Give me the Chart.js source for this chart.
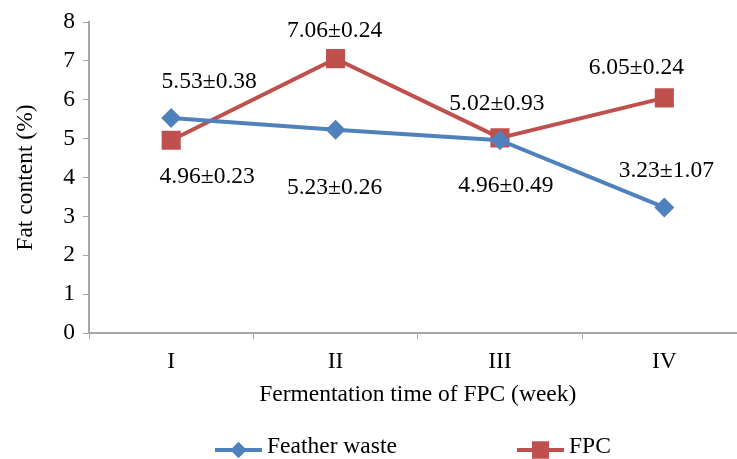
<!DOCTYPE html>
<html>
<head>
<meta charset="utf-8">
<script src="https://cdn.jsdelivr.net/npm/chart.js@4/dist/chart.umd.min.js"></script>
<style>
  html, body { margin: 0; padding: 0; background: #fff; overflow: hidden; }
  #wrap { width: 737px; height: 459px; overflow: hidden; }
</style>
</head>
<body>
<div id="wrap"><canvas id="fatChart" width="760" height="459"></canvas></div>
<script>
// chart data
const weeks = ['I', 'II', 'III', 'IV'];
const featherWaste = [5.53, 5.23, 4.96, 3.23];
const fpc = [4.96, 7.06, 5.02, 6.05];
const featherLabels = ['5.53±0.38', '5.23±0.26', '4.96±0.49', '3.23±1.07'];
const fpcLabels = ['4.96±0.23', '7.06±0.24', '5.02±0.93', '6.05±0.24'];

const blue = '#4F81BD';
const red = '#C0504D';
const axisGray = '#A6A6A6';
const serif = "'Liberation Serif', 'Times New Roman', serif";
const fontPx = 23.5;

// pixel offsets of the value labels from their points (style only)
const labelShift = {
  0: [[38, -36], [-1, 58], [6, 46], [2, -37]],
  1: [[36, 37], [-1, -28], [-3, -34], [-28, -30]]
};
const valueText = { 0: featherLabels, 1: fpcLabels };

const valueLabels = {
  id: 'valueLabels',
  afterDatasetsDraw(chart) {
    const ctx = chart.ctx;
    ctx.save();
    ctx.font = `${fontPx}px ${serif}`;
    ctx.fillStyle = '#000';
    ctx.textAlign = 'center';
    ctx.textBaseline = 'middle';
    chart.data.datasets.forEach((ds, di) => {
      chart.getDatasetMeta(di).data.forEach((pt, i) => {
        const [dx, dy] = labelShift[di][i];
        ctx.fillText(valueText[di][i], pt.x + dx, pt.y + dy);
      });
    });
    ctx.restore();
  }
};

// legend drawn by hand: line + marker + text
const bottomLegend = {
  id: 'bottomLegend',
  afterDraw(chart) {
    const ctx = chart.ctx;
    const items = [
      { x: 215, ds: chart.data.datasets[0] },
      { x: 517, ds: chart.data.datasets[1] }
    ];
    const y = 450;
    ctx.save();
    items.forEach(({ x, ds }) => {
      ctx.strokeStyle = ds.borderColor;
      ctx.lineWidth = 4;
      ctx.beginPath();
      ctx.moveTo(x, y);
      ctx.lineTo(x + 47, y);
      ctx.stroke();
      ctx.fillStyle = ds.borderColor;
      Chart.helpers.drawPoint(ctx, {
        pointStyle: ds.pointStyle,
        radius: ds.legendRadius,
        rotation: 0,
        borderWidth: 0
      }, x + 23.5, y);
      ctx.fill();
      ctx.fillStyle = '#000';
      ctx.font = `${fontPx}px ${serif}`;
      ctx.textBaseline = 'middle';
      ctx.textAlign = 'left';
      ctx.fillText(ds.label, x + 52, y - 3);
    });
    ctx.restore();
  }
};

new Chart(document.getElementById('fatChart'), {
  type: 'line',
  data: {
    labels: weeks,
    datasets: [
      {
        label: 'Feather waste',
        data: featherWaste,
        borderColor: blue,
        backgroundColor: blue,
        borderWidth: 4,
        pointStyle: 'rectRot',
        pointRadius: 10,
        legendRadius: 8,
        pointBorderWidth: 0,
        tension: 0
      },
      {
        label: 'FPC',
        data: fpc,
        borderColor: red,
        backgroundColor: red,
        borderWidth: 4,
        pointStyle: 'rect',
        pointRadius: 13.5,
        legendRadius: 12,
        pointBorderWidth: 0,
        tension: 0
      }
    ]
  },
  plugins: [valueLabels, bottomLegend],
  options: {
    responsive: false,
    animation: false,
    layout: { padding: { top: 22, right: 3, bottom: 46, left: 0 } },
    plugins: {
      legend: { display: false },
      tooltip: { enabled: false }
    },
    scales: {
      x: {
        offset: true,
        grid: {
          offset: true,
          drawOnChartArea: false,
          drawTicks: true,
          tickLength: 6,
          color: axisGray
        },
        border: { color: axisGray, width: 2 },
        ticks: { color: '#000', font: { family: serif, size: fontPx }, padding: 9 },
        title: {
          display: true,
          text: 'Fermentation time of FPC (week)',
          color: '#000',
          font: { family: serif, size: fontPx },
          padding: { top: 5 }
        },
        afterFit: (s) => { s.height = 80; }
      },
      y: {
        min: 0,
        max: 8,
        ticks: { stepSize: 1, color: '#000', font: { family: serif, size: fontPx }, padding: 8 },
        grid: {
          drawOnChartArea: false,
          drawTicks: true,
          tickLength: 6,
          color: axisGray
        },
        border: { color: axisGray, width: 2 },
        title: {
          display: true,
          text: 'Fat content (%)',
          color: '#000',
          font: { family: serif, size: fontPx },
          padding: { top: 12, bottom: 4 }
        },
        afterFit: (s) => { s.width = 89; }
      }
    }
  }
});
</script>
</body>
</html>
